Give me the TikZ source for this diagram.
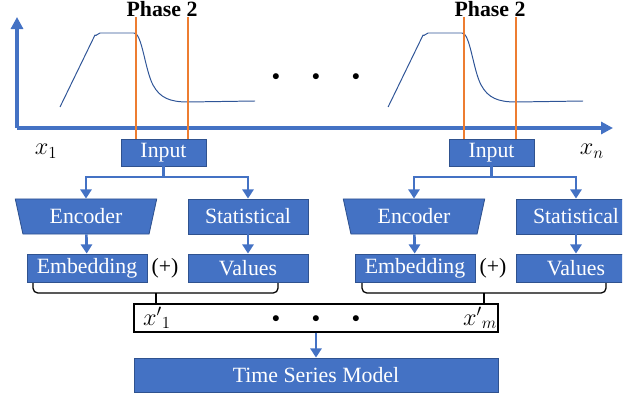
\documentclass[tikz,border=0pt]{standalone}
\usepackage{fontspec}
\setmainfont{Liberation Serif}
\usetikzlibrary{
    shapes.geometric, % For the trapezium encoder
    arrows.meta,      % For arrow tip styles
    positioning       % For relative positioning
}
\definecolor{boxblue}{RGB}{68,114,196}
\definecolor{edgeblue}{RGB}{47,82,143}
\definecolor{curveblue}{RGB}{47,85,151}
\definecolor{phaseorange}{RGB}{237,125,49}

\begin{document}
\begin{tikzpicture}[
    x=0.025cm, y=-0.025cm,
    % Define styles
    block/.style={rectangle, draw=edgeblue, line width=0.6pt, fill=boxblue, text=white, font=\fontsize{15.5}{17}\selectfont, minimum width=30mm, minimum height=8.75mm, inner sep=0pt}, % Blue block
    smallblock/.style={block, minimum height=7mm}, % Embedding / Values
    inbox/.style={block, minimum width=21.25mm, minimum height=6.75mm}, % Input box
    encoder/.style={trapezium, shape border rotate=180, trapezium stretches=true, trapezium angle=74, draw=edgeblue, line width=0.6pt, fill=boxblue, text=white, font=\fontsize{15.5}{17}\selectfont, minimum width=35.5mm, minimum height=8.75mm, inner sep=0pt}, % Encoder
    seqbox/.style={rectangle, draw=black, line width=0.8pt, fill=white, minimum width=91mm, minimum height=7mm, inner sep=0pt}, % Feature sequence
    label/.style={font=\fontsize{15.5}{17}\selectfont}, % Plain text
    mathlabel/.style={font=\fontsize{18}{20}\selectfont}, % Variable names
    dotrow/.style={font=\fontsize{11}{12}\selectfont}, % Ellipsis dots
    phaselabel/.style={font=\bfseries\fontsize{15.5}{17}\selectfont}, % Phase title
    axis/.style={draw=boxblue, line width=2.2pt, -{Triangle[length=3mm, width=3mm]}}, % Axes
    signal/.style={draw=curveblue, line width=0.7pt, line join=round}, % Time series
    phase/.style={draw=phaseorange, line width=1.8pt}, % Phase bounds
    arrow/.style={draw=boxblue, line width=1.9pt, -{Triangle[length=2.3mm, width=2.8mm]}}, % Arrow style
    brace/.style={draw=black, line width=0.9pt, rounded corners=1.2mm} % Grouping bracket
]
\useasboundingbox (0,0) rectangle (628,400);

% ----- SIGNAL AXES -----
\coordinate (origin) at (17,128);
\draw [axis] (origin) -- (17,17);
\draw [axis] (origin) -- (613,128);
\node (x_first) [mathlabel] at (46,151) {$x_1$};
\node (x_last)  [mathlabel] at (592,151) {$x_n$};

% First window
\draw [signal] (60,107) -- (95,35) to[out=-60,in=180] (100,33) -- (134,33)
    .. controls (142,33) and (145,70) .. (153,85)
    .. controls (160,98) and (170,102) .. (188,102) -- (255,101);
% Second window
\draw [signal, xshift=8.2cm] (60,107) -- (95,35) to[out=-60,in=180] (100,33) -- (134,33)
    .. controls (142,33) and (145,70) .. (153,85)
    .. controls (160,98) and (170,102) .. (188,102) -- (255,101);

\node (dots_top) [dotrow] at (316,77) {$\bullet\hspace{7.2mm}\bullet\hspace{7.2mm}\bullet$};

% ----- FIRST WINDOW -----
\node (in_one)    [inbox] at (163.5,152.5) {Input};
\node (enc_one)   [encoder] at (86,216.5) {Encoder};
\node (stat_one)  [block] at (248,216.5) {Statistical};
\node (emb_one)   [smallblock] at (87,268) {Embedding};
\node (val_one)   [smallblock] at (248,268) {Values};
\node (plus_one)  [label] at (165,268) {(+)};
\node (title_one) [phaselabel] at (162,9) {Phase 2};

% ----- SECOND WINDOW -----
\node (in_two)    [inbox] at (491.5,152.5) {Input};
\node (enc_two)   [encoder] at (414,216.5) {Encoder};
\begin{scope}
    \clip (0,0) rectangle (622,400);
    \node (stat_two) [block] at (576,216.5) {Statistical};
    \node (val_two)  [smallblock] at (576,268) {Values};
\end{scope}
\node (emb_two)   [smallblock] at (415,268) {Embedding};
\node (plus_two)  [label] at (493,268) {(+)};
\node (title_two) [phaselabel] at (490,9) {Phase 2};

% Phase bounds
\coordinate (start_a) at (136,17);
\coordinate (end_a)   at (188,17);
\coordinate (start_b) at (464,17);
\coordinate (end_b)   at (516,17);
\draw [phase] (start_a) -- (start_a |- in_one.north);
\draw [phase] (end_a) -- (end_a |- in_one.north);
\draw [phase] (start_b) -- (start_b |- in_two.north);
\draw [phase] (end_b) -- (end_b |- in_two.north);

% ----- MODEL INPUT -----
\node (seq)   [seqbox] at (316,318) {};
\node (xp_one)  [mathlabel] at (157,318) {$x'{}_1$};
\node (xp_last) [mathlabel] at (480,318) {$x'{}_m$};
\node (dots_seq) [dotrow] at (316,319) {$\bullet\hspace{7.2mm}\bullet\hspace{7.2mm}\bullet$};
\node (model) [block, minimum width=91mm, minimum height=8.5mm] at (316,375) {Time Series Model};

% Draw arrows
\coordinate (split_one) at (163.5,177);
\coordinate (split_two) at (491.5,177);
\draw [arrow] (in_one.south) -- (split_one) -| (enc_one.north);
\draw [arrow] (split_one) -| (stat_one.north);
\draw [arrow] (enc_one) -- (emb_one);
\draw [arrow] (stat_one) -- (val_one);
\draw [arrow] (in_two.south) -- (split_two) -| (enc_two.north);
\draw [arrow] (split_two) -| (stat_two.north);
\draw [arrow] (enc_two) -- (emb_two);
\draw [arrow] (stat_two) -- (val_two);
\draw [arrow] (seq) -- (model);

% Grouping brackets
\coordinate (tip_one) at (156,293);
\coordinate (tip_two) at (484,293);
\draw [brace] (33,283) |- (tip_one) -| (278,283);
\draw [brace, rounded corners=0pt] (tip_one) -- (tip_one |- seq.north);
\draw [brace] (362,283) |- (tip_two) -| (606,283);
\draw [brace, rounded corners=0pt] (tip_two) -- (tip_two |- seq.north);

\end{tikzpicture}
\end{document}
